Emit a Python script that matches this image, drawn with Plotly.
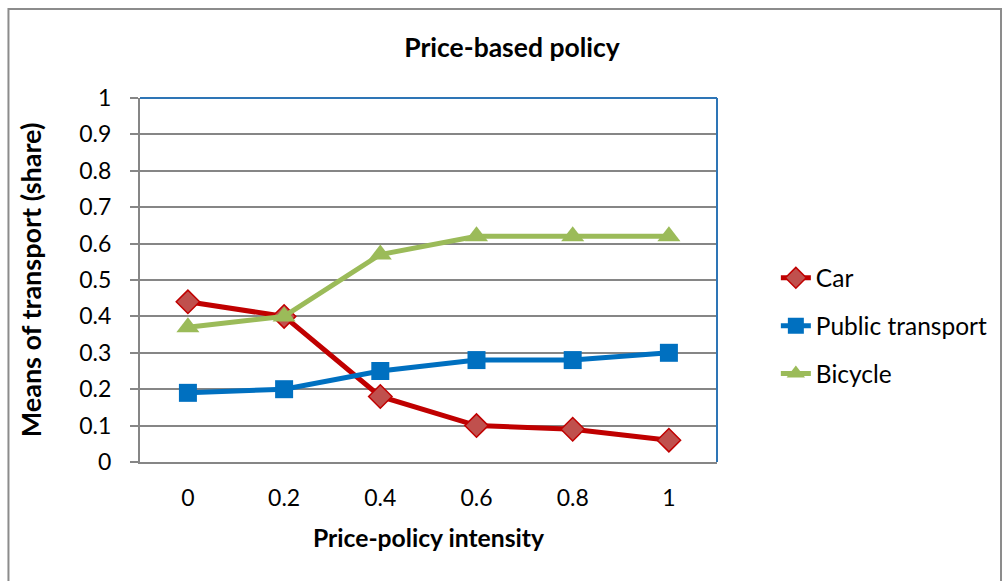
import plotly.graph_objects as go

# Policy intensity levels and modal shares
intensity = [0, 0.2, 0.4, 0.6, 0.8, 1]
car = [0.44, 0.40, 0.18, 0.10, 0.09, 0.06]
public_transport = [0.19, 0.20, 0.25, 0.28, 0.28, 0.30]
bicycle = [0.37, 0.40, 0.57, 0.62, 0.62, 0.62]

x_tick_text = ["0", "0.2", "0.4", "0.6", "0.8", "1"]
y_tick_vals = [0, 0.1, 0.2, 0.3, 0.4, 0.5, 0.6, 0.7, 0.8, 0.9, 1]
y_tick_text = ["0", "0.1", "0.2", "0.3", "0.4", "0.5", "0.6", "0.7", "0.8", "0.9", "1"]

FONT = "Lato, 'Open Sans', sans-serif"
GRID = "#868686"
BLUE_FRAME = "#2E75B6"

fig = go.Figure()

fig.add_trace(go.Scatter(
    x=intensity, y=car, name="Car", mode="lines+markers",
    legendgroup="a",
    line=dict(color="#C00000", width=5),
    marker=dict(symbol="diamond", size=18, color="#C0504D",
                line=dict(color="#C00000", width=1.5)),
))
fig.add_trace(go.Scatter(
    x=intensity, y=public_transport, name="Public transport", mode="lines+markers",
    legendgroup="b",
    line=dict(color="#0070C0", width=5),
    marker=dict(symbol="square", size=18, color="#0070C0"),
))
fig.add_trace(go.Scatter(
    x=intensity, y=bicycle, name="Bicycle", mode="lines+markers",
    legendgroup="c",
    line=dict(color="#9BBB59", width=5),
    marker=dict(symbol="triangle-up", size=20, color="#9BBB59"),
))

fig.update_layout(
    width=1005, height=581,
    margin=dict(l=140, r=286, t=98, b=119),
    paper_bgcolor="white", plot_bgcolor="white",
    font=dict(family=FONT, size=23, color="#000000"),
    title=dict(text="<b>Price-based policy</b>", x=512 / 1005, xanchor="center",
               y=1 - 48 / 581, yanchor="middle", font=dict(size=26.5)),
    showlegend=True,
    legend=dict(x=1.102, xanchor="left", y=0.374, yanchor="middle",
                traceorder="grouped", tracegroupgap=13,
                font=dict(size=24.5), bgcolor="rgba(0,0,0,0)"),
    xaxis=dict(
        range=[-0.0996, 1.1], tickvals=intensity, ticktext=x_tick_text,
        showgrid=False, zeroline=False, showline=True, linecolor=GRID, linewidth=2,
        ticks="", ticklabelstandoff=14, tickfont=dict(size=23),
        title=dict(text="<b>Price-policy intensity</b>", standoff=20, font=dict(size=24.7)),
    ),
    yaxis=dict(
        range=[0, 1], tickvals=y_tick_vals, ticktext=y_tick_text,
        showgrid=True, gridcolor=GRID, gridwidth=2, zeroline=False,
        showline=True, linecolor=GRID, linewidth=2,
        ticks="outside", ticklen=8, tickcolor=GRID, tickwidth=2,
        ticklabelstandoff=14, tickfont=dict(size=23),
        title=dict(text="<b>Means of transport (share)</b>", standoff=30, font=dict(size=27)),
    ),
    shapes=[
        # blue frame on the top and right sides of the plot area
        dict(type="line", xref="paper", yref="paper", x0=0, x1=1, y0=1, y1=1,
             line=dict(color=BLUE_FRAME, width=2)),
        dict(type="line", xref="paper", yref="paper", x0=1, x1=1, y0=0, y1=1,
             line=dict(color=BLUE_FRAME, width=2)),
        # outer chart border
        dict(type="rect", xref="paper", yref="paper",
             x0=(8 - 140) / 579, x1=(1004 - 140) / 579,
             y0=-0.4, y1=(462 - 9) / 364,
             line=dict(color="#8C8C8C", width=2), layer="below"),
    ],
)

fig.write_html("out.html")
